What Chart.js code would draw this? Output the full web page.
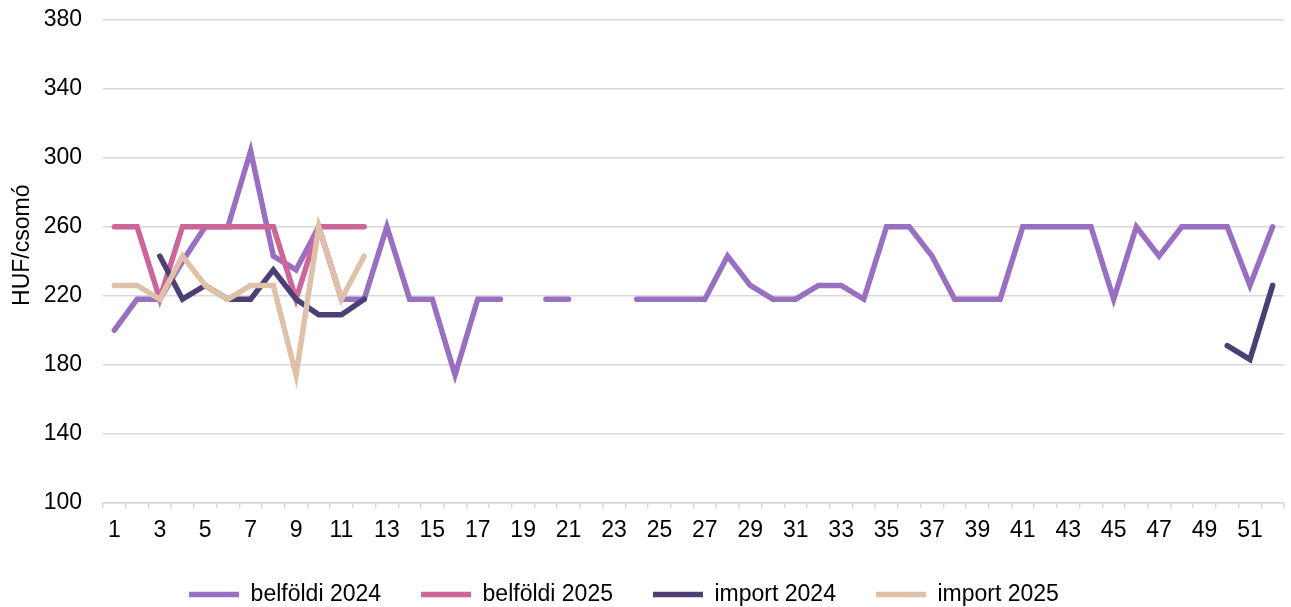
<!DOCTYPE html>
<html>
<head>
<meta charset="utf-8">
<script src="https://cdn.jsdelivr.net/npm/chart.js@4/dist/chart.umd.min.js"></script>
<style>
  html, body { margin: 0; padding: 0; background: #fff; }
  #wrap { width: 1291px; height: 607px; }
</style>
</head>
<body>
<div id="wrap"><canvas id="chart"></canvas></div>
<script>
// weeks of the year
const weeks = ['1','2','3','4','5','6','7','8','9','10','11','12','13','14','15','16','17','18','19','20',
               '21','22','23','24','25','26','27','28','29','30','31','32','33','34','35','36','37','38','39','40',
               '41','42','43','44','45','46','47','48','49','50','51','52'];

// HUF/csomó
const belfoldi2024 = [200, 218, 218, 240, 260, 260, 304, 243, 235, 260, 218, 218, 260, 218, 218, 174, 218, 218, null, 218,
                      218, null, null, 218, 218, 218, 218, 243, 226, 218, 218, 226, 226, 218, 260, 260, 243, 218, 218, 218,
                      260, 260, 260, 260, 218, 260, 243, 260, 260, 260, 226, 260];
const belfoldi2025 = [260, 260, 218, 260, 260, 260, 260, 260, 218, 260, 260, 260];
const import2024   = [null, null, 243, 218, 226, 218, 218, 235, 218, 209, 209, 218,
                      null, null, null, null, null, null, null, null, null, null, null, null, null, null, null, null,
                      null, null, null, null, null, null, null, null, null, null, null, null, null, null, null, null,
                      null, null, null, null, null, 191, 183, 226];
const import2025   = [226, 226, 218, 243, 226, 218, 226, 226, 174, 260, 218, 243];

const yTicks = [100, 140, 180, 220, 260, 300, 340, 380];

const FONT = { family: '"Liberation Sans", Arial, sans-serif', size: 23 };
const GRID = '#d9d9d9';

function series(label, data, color, order) {
    return {
        label: label,
        data: data,
        borderColor: color,
        backgroundColor: color,
        borderWidth: 5.5,
        borderCapStyle: 'round',
        borderJoinStyle: 'miter',
        pointRadius: 0,
        pointHoverRadius: 0,
        pointStyle: 'line',
        tension: 0,
        spanGaps: false,
        order: order,
    };
}

// excel legend sits a bit left of the centre
const legendShift = {
    id: 'legendShift',
    afterLayout(chart) {
        const lg = chart.legend;
        if (!lg) return;
        lg.left -= 18;
        lg.right -= 18;
    }
};

const ctx = document.getElementById('chart').getContext('2d');
new Chart(ctx, {
    type: 'line',
    data: {
        labels: weeks,
        datasets: [
            series('belföldi 2024', belfoldi2024, '#9970c1', 4),
            series('belföldi 2025', belfoldi2025, '#cc6699', 3),
            series('import 2024',   import2024,   '#4b3f75', 2),
            series('import 2025',   import2025,   '#dfc0a8', 1),
        ]
    },
    plugins: [legendShift],
    options: {
        responsive: true,
        maintainAspectRatio: false,
        animation: false,
        layout: { padding: { left: 0, right: 7, top: 20, bottom: 0 } },
        plugins: {
            tooltip: { enabled: false },
            legend: {
                position: 'bottom',
                maxHeight: 64,
                labels: {
                    color: '#000',
                    font: FONT,
                    usePointStyle: true,
                    pointStyle: 'line',
                    pointStyleWidth: 50,
                    padding: 40,
                    sort: (a, b) => a.datasetIndex - b.datasetIndex,
                }
            }
        },
        scales: {
            x: {
                offset: true,
                grid: {
                    offset: true,
                    drawOnChartArea: false,
                    drawTicks: true,
                    tickLength: 6,
                    color: GRID,
                    lineWidth: 1.5,
                },
                border: { color: GRID, width: 1.5 },
                ticks: {
                    color: '#000',
                    font: FONT,
                    autoSkip: false,
                    maxRotation: 0,
                    padding: 8,
                    callback: (v, i) => (i % 2 === 0 ? weeks[i] : ''),
                },
                afterFit: (s) => { s.height = 40.5; }
            },
            y: {
                min: 100,
                max: 380,
                afterBuildTicks: (s) => { s.ticks = yTicks.map(v => ({ value: v })); },
                grid: { color: GRID, lineWidth: 1.5, drawTicks: true, tickLength: 21, tickColor: 'rgba(0,0,0,0)' },
                border: { display: false },
                ticks: { color: '#000', font: FONT, padding: 0 },
                title: {
                    display: true,
                    text: '     HUF/csomó',
                    color: '#000',
                    font: FONT,
                    padding: { top: 9, bottom: 0 },
                },
                afterFit: (s) => { s.width = 103; }
            }
        }
    }
});
</script>
</body>
</html>
